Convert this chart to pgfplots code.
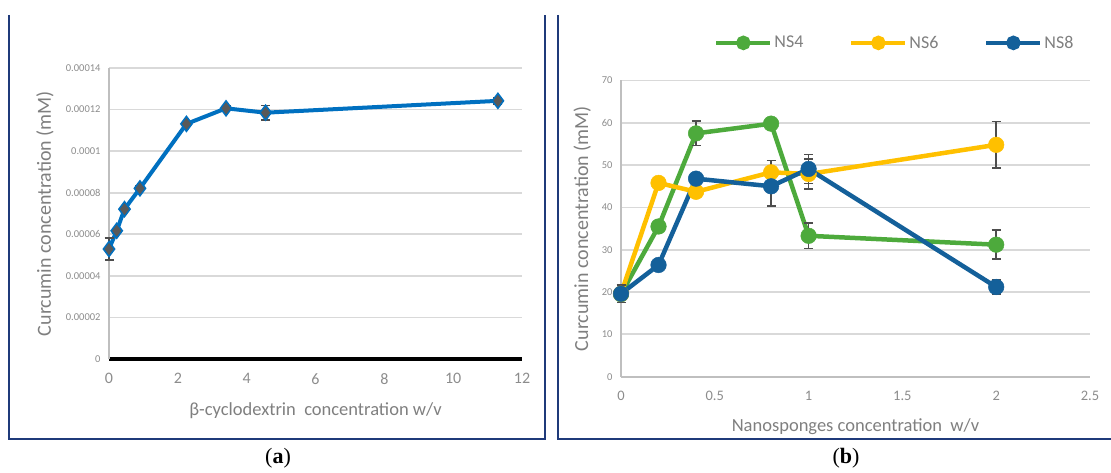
\documentclass[border=0pt]{standalone}
\usepackage{pgfplots}
\pgfplotsset{compat=1.18}
\usepackage{pgfplotstable}
\usepackage{fontspec}
\setmainfont{Carlito}
\newfontfamily\capfont{Liberation Serif}
\definecolor{frameblue}{HTML}{1F3A7A}
\definecolor{lineblue}{HTML}{0070C0}
\definecolor{mkgray}{HTML}{595959}
\definecolor{gridgray}{HTML}{D9D9D9}
\definecolor{axgray}{HTML}{BFBFBF}
\definecolor{labgray}{HTML}{7F7F7F}
\definecolor{tickgray}{HTML}{8C8C8C}
\definecolor{errgray}{HTML}{4D4D4D}
\definecolor{nsgreen}{HTML}{4DAA3C}
\definecolor{nsyellow}{HTML}{FFC000}
\definecolor{nsblue}{HTML}{14609A}

\pgfplotstableread{
x y e
0 0.0000529 0.0000054
0.225 0.0000617 0.000001
0.45 0.0000721 0.000001
0.9 0.0000821 0.000001
2.25 0.0001131 0.000001
3.4 0.0001206 0.000001
4.55 0.0001185 0.0000035
11.3 0.0001242 0.0000015
}\tblA

\pgfplotstableread{
x y e
0 19.5 1.0
0.2 35.5 1.0
0.4 57.5 2.9
0.8 59.8 0.5
1 33.3 3.0
2 31.2 3.4
}\tblNSfour

\pgfplotstableread{
x y e
0 19.6 1.5
0.2 45.8 0.8
0.4 43.7 1.3
0.8 48.3 2.8
1 47.9 3.6
2 54.8 5.5
}\tblNSsix

\pgfplotstableread{
x y e
0 19.6 2.1
0.2 26.4 1.0
0.4 46.8 0.8
0.8 45.0 4.6
1 49.1 3.4
2 21.2 1.6
}\tblNSeight

\pgfplotsset{
  myerr/.style={
    error bars/.cd, y dir=both, y explicit,
    error bar style={line width=1.6pt, color=errgray},
    error mark options={rotate=90, mark size=4.5pt, line width=1.6pt, color=errgray},
  },
}

\begin{document}
\begin{tikzpicture}[x=1pt,y=1pt]
\useasboundingbox (0,0) rectangle (1111,472);
% panel frames
\draw[frameblue, line width=2.5pt] (9,457) -- (9,33) -- (545,33) -- (545,457);
\draw[frameblue, line width=2.5pt] (558,457) -- (558,33) -- (1120,33);

% panel (a)
\begin{axis}[
  at={(109pt,113pt)}, anchor=south west,
  scale only axis, width=413pt, height=291pt,
  xmin=0, xmax=12, ymin=0, ymax=0.00014,
  clip=false,
  axis x line*=bottom, axis y line*=left,
  x axis line style={black, line width=3.5pt},
  y axis line style={axgray, line width=1.8pt},
  ymajorgrids, grid style={gridgray, line width=1.8pt},
  major tick length=0pt,
  xtick={0,2,4,6,8,10,12},
  ytick={0,0.00002,0.00004,0.00006,0.00008,0.0001,0.00012,0.00014},
  yticklabels={0,0.00002,0.00004,0.00006,0.00008,0.0001,0.00012,0.00014},
  scaled y ticks=false,
  /pgf/number format/assume math mode=true,
  xticklabel style={font=\fontsize{16}{16}\selectfont, text=tickgray, yshift=-11pt},
  yticklabel style={font=\fontsize{10.5}{10.5}\selectfont, text=tickgray, xshift=-5pt},
  xlabel={β-cyclodextrin\ \ concentration w/v},
  ylabel={Curcumin concentration (mM)},
  xlabel style={at={(axis description cs:0.5,-0.178)}, anchor=center, font=\fontsize{18.5}{18.5}\selectfont, text=labgray},
  ylabel style={at={(axis description cs:-0.155,0.5)}, anchor=center, font=\fontsize{20}{20}\selectfont, text=labgray},
]
\addplot[color=lineblue, line width=4pt, mark=diamond*, mark size=7.5pt,
  mark options={fill=mkgray, draw=lineblue, line width=1.5pt}, myerr]
  table[x=x, y=y, y error=e] {\tblA};
\end{axis}

% panel (b)
\begin{axis}[
  at={(621pt,95.3pt)}, anchor=south west,
  scale only axis, width=469pt, height=296.2pt,
  xmin=0, xmax=2.5, ymin=0, ymax=70,
  clip=false,
  axis x line*=bottom, axis y line*=left,
  x axis line style={axgray, line width=2.2pt},
  y axis line style={axgray, line width=2.2pt},
  ymajorgrids, grid style={gridgray, line width=1.8pt},
  major tick length=0pt,
  xtick={0,0.5,1,1.5,2,2.5},
  ytick={0,10,20,30,40,50,60,70},
  /pgf/number format/assume math mode=true,
  xticklabel style={font=\fontsize{14.5}{14.5}\selectfont, text=tickgray, yshift=-11pt},
  yticklabel style={font=\fontsize{10.5}{10.5}\selectfont, text=tickgray, xshift=-5pt},
  xlabel={Nanosponges concentration\ \ w/v},
  ylabel={Curcumin concentration (mM)},
  xlabel style={at={(axis description cs:0.5,-0.168)}, anchor=center, font=\fontsize{18.5}{18.5}\selectfont, text=labgray},
  ylabel style={at={(axis description cs:-0.083,0.5)}, anchor=center, font=\fontsize{20}{20}\selectfont, text=labgray},
  legend style={at={(axis description cs:0.584,1.127)}, anchor=center, draw=none, fill=none,
    legend columns=3, font=\fontsize{18}{18}\selectfont, text=labgray,
    /tikz/every even column/.append style={column sep=44pt}},
  legend image code/.code={
    \draw[#1, mark=none, line width=4pt] (0pt,0pt) -- (54pt,0pt);
    \fill[#1] (27pt,0pt) circle (5pt);
  },
]
\addplot[color=nsgreen, line width=4.5pt, mark=*, mark size=7.8pt,
  mark options={line width=0.5pt}, myerr]
  table[x=x, y=y, y error=e] {\tblNSfour};
\addlegendentry{NS4}
\addplot[color=nsyellow, line width=4.5pt, mark=*, mark size=7.8pt,
  mark options={line width=0.5pt}, myerr]
  table[x=x, y=y, y error=e] {\tblNSsix};
\addlegendentry{NS6}
\addplot[color=nsblue, line width=4.5pt, mark=*, mark size=7.8pt,
  mark options={line width=0.5pt}, myerr]
  table[x=x, y=y, y error=e] {\tblNSeight};
\addlegendentry{NS8}
\end{axis}

\node[font=\capfont\fontsize{22}{22}\selectfont] at (278,14) {(\textbf{a})};
\node[font=\capfont\fontsize{22}{22}\selectfont] at (846,14) {(\textbf{b})};
\end{tikzpicture}
\end{document}
